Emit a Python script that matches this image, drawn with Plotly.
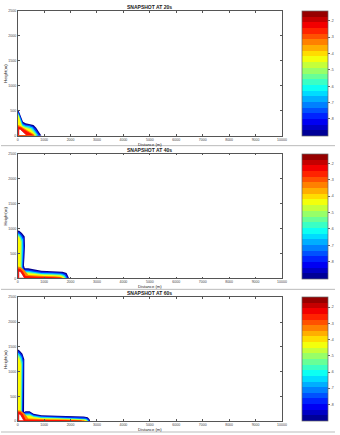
import plotly.graph_objects as go

# ---------------- data (metres) ----------------
TITLES = ["SNAPSHOT AT 20s", "SNAPSHOT AT 40s", "SNAPSHOT AT 60s"]
X_TICKS = [0, 1000, 2000, 3000, 4000, 5000, 6000, 7000, 8000, 9000, 10000]
Y_TICKS = [0, 500, 1000, 1500, 2000, 2500]
CBAR_TICKS = [-2, -3, -4, -5, -6, -7, -8]
CBAR_MIN, CBAR_MAX = -9.03, -1.39

# contour level colours, outermost (lowest) -> innermost (highest)
LEVEL_COLORS = ["#00008F", "#0030FF", "#00CFFF", "#80FF80", "#FFFF00",
                "#FF8000", "#FF1000", "#FFFFFF"]

# Snapshot 20 s : outline of each filled contour level
T20_X = [
    [0, 0, 60, 130, 200, 300, 450, 600, 700, 800, 900],
    [0, 0, 60, 125, 195, 300, 450, 580, 680, 770, 850],
    [0, 0, 55, 115, 185, 290, 430, 560, 650, 730, 800],
    [0, 0, 50, 105, 170, 270, 400, 520, 610, 690, 750],
    [0, 0, 45, 95, 155, 250, 370, 480, 570, 650, 710],
    [0, 0, 80, 180, 300, 420, 520, 600, 660],
    [0, 0, 100, 200, 300, 400, 500, 580, 630],
    [40, 40, 110, 220, 330],
]
T20_Y = [
    [0, 530, 470, 360, 280, 250, 240, 215, 160, 80, 0],
    [0, 505, 445, 340, 258, 228, 218, 192, 138, 65, 0],
    [0, 480, 420, 315, 235, 205, 195, 170, 118, 50, 0],
    [0, 455, 395, 290, 212, 185, 172, 148, 98, 38, 0],
    [0, 435, 375, 270, 195, 165, 150, 128, 80, 28, 0],
    [0, 220, 200, 170, 130, 100, 70, 35, 0],
    [0, 190, 170, 140, 100, 70, 45, 20, 0],
    [15, 140, 125, 60, 15],
]

# Snapshot 40 s
T40_X = [
    [0, 0, 60, 160, 265, 275, 255, 235, 270, 400, 600, 900, 1300, 1700, 1850, 1920, 1950],
    [0, 0, 60, 150, 235, 245, 225, 205, 250, 400, 600, 900, 1300, 1680, 1820, 1880, 1910],
    [0, 0, 55, 130, 200, 210, 190, 175, 230, 400, 600, 900, 1300, 1650, 1780, 1840, 1870],
    [0, 0, 50, 110, 160, 170, 155, 145, 210, 400, 600, 900, 1300, 1620, 1740, 1800, 1830],
    [0, 0, 40, 90, 120, 125, 115, 110, 190, 400, 600, 900, 1300, 1600, 1700, 1760, 1790],
    [0, 0, 120, 250, 400, 700, 1000, 1400, 1650, 1740],
    [0, 0, 100, 200, 300, 500, 800, 1200, 1600, 1700],
    [40, 40, 120, 220, 250],
]
T40_Y = [
    [0, 960, 955, 910, 840, 650, 420, 260, 205, 205, 185, 155, 145, 135, 110, 50, 0],
    [0, 935, 925, 880, 810, 640, 420, 240, 180, 180, 160, 133, 125, 115, 90, 35, 0],
    [0, 905, 895, 850, 780, 620, 410, 225, 158, 155, 135, 110, 103, 95, 70, 25, 0],
    [0, 870, 860, 815, 745, 600, 400, 210, 135, 130, 112, 90, 83, 76, 55, 18, 0],
    [0, 840, 830, 790, 720, 580, 390, 200, 115, 108, 92, 72, 65, 58, 40, 12, 0],
    [0, 240, 225, 170, 70, 55, 48, 42, 30, 0],
    [0, 205, 190, 140, 50, 38, 32, 28, 20, 0],
    [15, 150, 130, 40, 15],
]

# Snapshot 60 s
T60_X = [
    [0, 0, 80, 180, 250, 245, 225, 215, 240, 300, 450, 600, 900, 1500, 2100, 2500, 2650, 2720, 2740],
    [0, 0, 75, 170, 225, 220, 200, 190, 225, 300, 450, 600, 900, 1500, 2100, 2480, 2620, 2690, 2710],
    [0, 0, 70, 150, 195, 190, 175, 165, 205, 300, 450, 600, 900, 1500, 2100, 2450, 2590, 2660, 2680],
    [0, 0, 60, 125, 160, 155, 145, 140, 185, 300, 450, 600, 900, 1500, 2100, 2420, 2560, 2630, 2650],
    [0, 0, 50, 100, 125, 120, 110, 110, 165, 300, 450, 600, 900, 1500, 2100, 2390, 2530, 2600, 2620],
    [0, 0, 120, 250, 400, 700, 1200, 1800, 2300, 2500, 2560],
    [0, 0, 100, 200, 300, 500, 1000, 1600, 2200, 2400, 2450],
    [40, 40, 110, 200, 230],
]
T60_Y = [
    [0, 1450, 1420, 1360, 1250, 900, 500, 220, 185, 200, 200, 150, 120, 110, 105, 95, 80, 40, 0],
    [0, 1420, 1390, 1330, 1225, 880, 490, 200, 165, 178, 178, 130, 102, 93, 88, 78, 63, 30, 0],
    [0, 1385, 1355, 1295, 1190, 860, 480, 185, 145, 155, 155, 112, 86, 77, 72, 63, 50, 22, 0],
    [0, 1345, 1315, 1255, 1150, 840, 470, 170, 125, 133, 133, 95, 70, 62, 57, 50, 38, 15, 0],
    [0, 1300, 1270, 1215, 1110, 820, 460, 160, 108, 112, 110, 78, 56, 48, 44, 38, 28, 10, 0],
    [0, 220, 210, 160, 55, 45, 38, 34, 28, 18, 0],
    [0, 195, 185, 140, 35, 28, 24, 22, 18, 10, 0],
    [15, 150, 130, 40, 15],
]

SNAPSHOTS = [(T20_X, T20_Y), (T40_X, T40_Y), (T60_X, T60_Y)]

# ---------------- layout geometry (pixels) ----------------
W, H = 340, 435
PLOT_LEFT, PLOT_RIGHT = 17, 286
PANELS_PX = [(9, 135), (153, 279), (298, 423)]   # top, bottom of plot area
CBAR_LEFT, CBAR_W = 306, 26


def py(px):
    return 1 - px / H


def jet(t):
    r = min(max(1.5 - abs(4 * t - 3), 0), 1)
    g = min(max(1.5 - abs(4 * t - 2), 0), 1)
    b = min(max(1.5 - abs(4 * t - 1), 0), 1)
    return "rgb(%d,%d,%d)" % (round(r * 255), round(g * 255), round(b * 255))


N_BANDS = 22
jet_steps = []
for i in range(N_BANDS):
    c = jet((i + 0.5) / N_BANDS)
    jet_steps.append([i / N_BANDS, c])
    jet_steps.append([(i + 1) / N_BANDS, c])

fig = go.Figure()
FONT = "Liberation Sans, Arial"
axis_font = dict(family=FONT, size=3.5, color="#444")

for k, ((xs_list, ys_list), title) in enumerate(zip(SNAPSHOTS, TITLES)):
    n = "" if k == 0 else str(k + 1)
    xa, ya = "x" + n, "y" + n
    for lvl, (xs, ys) in enumerate(zip(xs_list, ys_list)):
        color = LEVEL_COLORS[lvl]
        is_core = lvl == len(LEVEL_COLORS) - 1
        fig.add_trace(go.Scatter(
            x=xs, y=ys, xaxis=xa, yaxis=ya, mode="lines", fill="toself",
            fillcolor=color,
            line=dict(color="#E00000" if is_core else color,
                      width=0.8 if is_core else 0),
            showlegend=False, hoverinfo="skip"))
    top, bot = PANELS_PX[k]
    # colorbar holder
    fig.add_trace(go.Scatter(
        x=[-5000], y=[-5000], xaxis=xa, yaxis=ya, mode="markers",
        marker=dict(color=[-5], colorscale=jet_steps, cmin=CBAR_MIN, cmax=CBAR_MAX,
                    showscale=True, size=1, opacity=0,
                    colorbar=dict(
                        x=CBAR_LEFT / W, xanchor="left", xpad=0,
                        y=(py(top) + py(bot)) / 2, yanchor="middle", ypad=0,
                        len=(bot - top) / H, lenmode="fraction",
                        thickness=CBAR_W, thicknessmode="pixels",
                        outlinewidth=0.7, outlinecolor="#666",
                        tickvals=CBAR_TICKS, ticktext=[str(v) for v in CBAR_TICKS],
                        ticks="outside", ticklen=2, tickcolor="#666",
                        tickfont=axis_font)),
        showlegend=False, hoverinfo="skip"))

    common = dict(showgrid=False, zeroline=False, showline=True, linecolor="#555",
                  linewidth=0.7, ticks="inside", ticklen=2, tickcolor="#555",
                  mirror="ticks", tickfont=axis_font)
    fig.layout["xaxis" + n] = dict(
        domain=[PLOT_LEFT / W, PLOT_RIGHT / W], anchor=ya, range=[0, 10000],
        tickvals=X_TICKS, ticktext=[str(v) for v in X_TICKS], **common)
    fig.layout["yaxis" + n] = dict(
        domain=[py(bot), py(top)], anchor=xa, range=[0, 2500],
        tickvals=Y_TICKS, ticktext=[str(v) for v in Y_TICKS], **common)

    cx = (PLOT_LEFT + PLOT_RIGHT) / 2 / W
    fig.add_annotation(text="<b>" + title + "</b>", xref="paper", yref="paper",
                       x=cx, y=py(top - 4), xanchor="center", yanchor="middle",
                       showarrow=False, borderpad=0,
                       font=dict(family=FONT, size=5, color="#222"))
    fig.add_annotation(text="Distance (m)", xref="paper", yref="paper",
                       x=cx, y=py(bot + 8.5), xanchor="center", yanchor="middle",
                       showarrow=False, borderpad=0,
                       font=dict(family=FONT, size=4.2, color="#222"))
    fig.add_annotation(text="Height(m)", xref="paper", yref="paper",
                       x=1 / W, y=(py(top) + py(bot)) / 2, xanchor="left",
                       yanchor="middle", textangle=-90, showarrow=False, borderpad=0,
                       font=dict(family=FONT, size=4.2, color="#222"))

# separator lines between the three snapshots
for ypx in (145, 290, 434):
    fig.add_shape(type="line", xref="paper", yref="paper", x0=0, x1=1,
                  y0=py(ypx), y1=py(ypx), line=dict(color="#BBBBBB", width=1))

fig.update_layout(width=W, height=H, margin=dict(l=0, r=0, t=0, b=0),
                  paper_bgcolor="white", plot_bgcolor="white")
fig.write_html("out.html")
